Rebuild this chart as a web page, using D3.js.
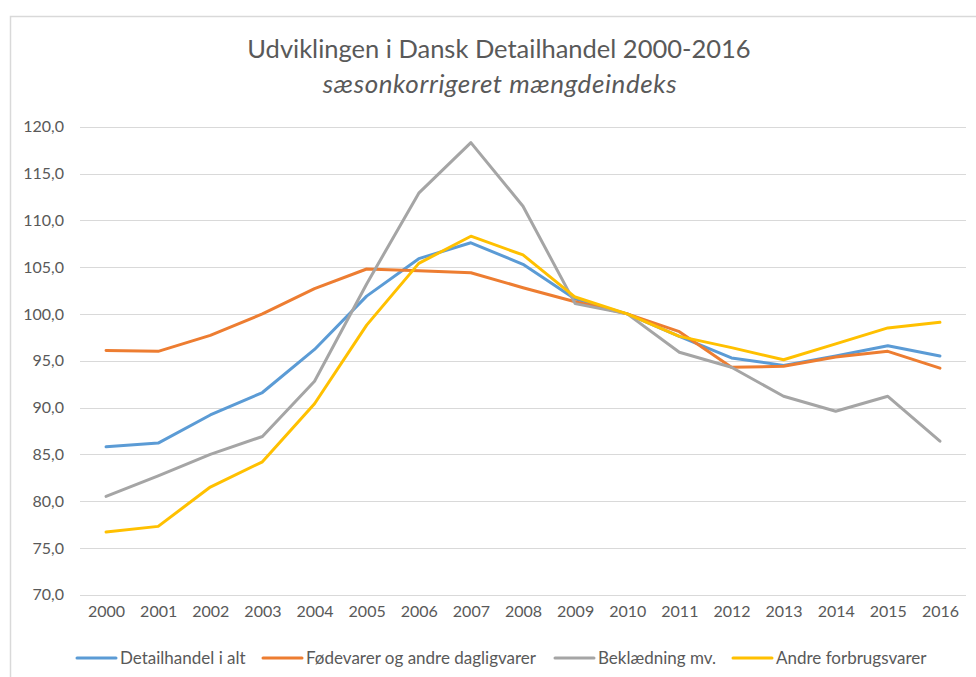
<!DOCTYPE html>
<html><head><meta charset="utf-8">
<script src="https://cdn.jsdelivr.net/npm/d3@7"></script>
<style>
html,body{margin:0;padding:0;background:#fff;}
svg{display:block;font-family:Lato,"Open Sans",sans-serif;}
</style></head>
<body>
<svg id="c" width="976" height="677"></svg>
<script>
const years = ["2000","2001","2002","2003","2004","2005","2006","2007","2008","2009","2010","2011","2012","2013","2014","2015","2016"];
const detailhandel = [85.8,86.2,89.2,91.6,96.2,101.9,105.9,107.6,105.3,101.6,100.0,97.6,95.3,94.5,95.5,96.6,95.5];
const foedevarer = [96.1,96.0,97.7,100.0,102.7,104.8,104.6,104.4,102.8,101.3,100.0,98.1,94.3,94.4,95.4,96.0,94.2];
const beklaedning = [80.5,82.7,85.0,86.9,92.8,103.2,112.9,118.3,111.5,101.1,100.0,95.9,94.3,91.2,89.6,91.2,86.4];
const andre = [76.7,77.3,81.5,84.2,90.4,98.8,105.4,108.3,106.3,101.8,100.0,97.6,96.4,95.1,96.8,98.5,99.1];
const seriesNames = ["Detailhandel i alt","Fødevarer og andre dagligvarer","Beklædning mv.","Andre forbrugsvarer"];
const seriesColors = ["#5b9bd5","#ed7d31","#a5a5a5","#ffc000"];
const yTicks = [70,75,80,85,90,95,100,105,110,115,120];
const titleText = "Udviklingen i Dansk Detailhandel 2000-2016";
const subtitleText = "sæsonkorrigeret mængdeindeks";

const seriesValues = [detailhandel, foedevarer, beklaedning, andre];
const svg = d3.select("#c");
const txt = "#595959";

// chart border
svg.append("rect").attr("x",10.5).attr("y",16.5).attr("width",1000).attr("height",700)
  .attr("fill","none").attr("stroke","#d9d9d9").attr("stroke-width",1.5);

const x = d3.scalePoint().domain(years).range([80,966]).padding(0.5);
const y = d3.scaleLinear().domain([70,120]).range([594.7,126.7]);

// gridlines
svg.append("g").selectAll("line").data(yTicks).join("line")
  .attr("x1",80).attr("x2",966)
  .attr("y1",d=>Math.round(y(d))+0.5).attr("y2",d=>Math.round(y(d))+0.5)
  .attr("stroke","#d9d9d9").attr("stroke-width",1);

// y axis
const yAxis = d3.axisLeft(y).tickValues(yTicks).tickSize(0).tickPadding(0)
  .tickFormat(d=>d3.format(".1f")(d).replace(".",","));
const gy = svg.append("g").attr("transform","translate(64,0)").call(yAxis);
gy.select(".domain").remove();
gy.selectAll("text").attr("fill",txt).attr("font-size",16).attr("font-family","Lato");

// x axis
const xAxis = d3.axisBottom(x).tickSize(0).tickPadding(0);
const gx = svg.append("g").attr("transform","translate(0,606)").call(xAxis);
gx.select(".domain").remove();
gx.selectAll("text").attr("fill",txt).attr("font-size",16).attr("font-family","Lato");

// lines
const line = d3.line().x((d,i)=>x(years[i])).y(d=>y(d));
svg.append("g").selectAll("path").data(seriesValues).join("path")
  .attr("d",d=>line(d)).attr("fill","none")
  .attr("stroke",(d,i)=>seriesColors[i]).attr("stroke-width",3)
  .attr("stroke-linejoin","round").attr("stroke-linecap","round");

// title
svg.append("text").attr("x",499).attr("y",58).attr("text-anchor","middle")
  .attr("fill",txt).attr("font-size",25.5).text(titleText);
svg.append("text").attr("x",500).attr("y",93).attr("text-anchor","middle")
  .attr("fill",txt).attr("font-size",26).attr("font-style","italic")
  .attr("letter-spacing",0.6).text(subtitleText);

// legend
const legendX = [77,263,555,733];
const lg = svg.append("g");
seriesNames.forEach((n,i)=>{
  const g = lg.append("g").attr("transform",`translate(${legendX[i]},658)`);
  g.append("line").attr("x1",0).attr("x2",39).attr("y1",0).attr("y2",0)
    .attr("stroke",seriesColors[i]).attr("stroke-width",3).attr("stroke-linecap","round");
  g.append("text").attr("x",43).attr("y",0).attr("dy","0.35em")
    .attr("fill",txt).attr("font-size",17).text(n);
});
</script>
</body></html>
